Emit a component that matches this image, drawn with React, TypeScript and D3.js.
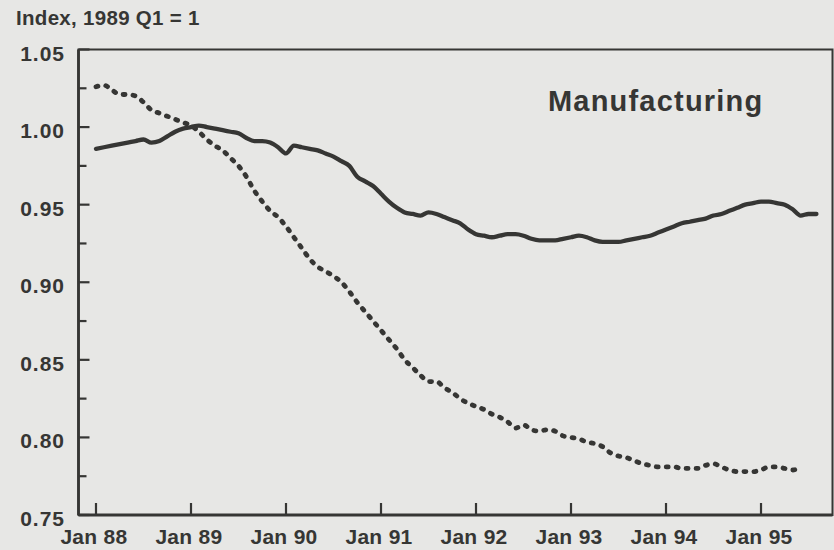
import React from "react";
import * as d3 from "d3";

// Monthly observations, index 0 = Jan 1988
const solidSeries: number[] = [
  0.986, 0.987, 0.988, 0.989, 0.990, 0.991, 0.992, 0.990, 0.991, 0.994, 0.997, 0.999,
  1.000, 1.001, 1.000, 0.999, 0.998, 0.997, 0.996, 0.993, 0.991, 0.991, 0.990, 0.987,
  0.983, 0.988, 0.987, 0.986, 0.985, 0.983, 0.981, 0.978, 0.975, 0.968, 0.965, 0.962,
  0.957, 0.952, 0.948, 0.945, 0.944, 0.943, 0.945, 0.944, 0.942, 0.940, 0.938, 0.934,
  0.931, 0.930, 0.929, 0.930, 0.931, 0.931, 0.930, 0.928, 0.927, 0.927, 0.927, 0.928,
  0.929, 0.930, 0.929, 0.927, 0.926, 0.926, 0.926, 0.927, 0.928, 0.929, 0.930, 0.932,
  0.934, 0.936, 0.938, 0.939, 0.940, 0.941, 0.943, 0.944, 0.946, 0.948, 0.950, 0.951,
  0.952, 0.952, 0.951, 0.950, 0.947, 0.943, 0.944, 0.944,
];

const dottedSeries: number[] = [
  1.026, 1.027, 1.024, 1.021, 1.021, 1.020, 1.016, 1.011, 1.009, 1.007, 1.005, 1.003,
  1.001, 0.997, 0.992, 0.988, 0.985, 0.980, 0.975, 0.968, 0.959, 0.952, 0.946, 0.942,
  0.936, 0.929, 0.922, 0.915, 0.910, 0.907, 0.904, 0.900, 0.894, 0.887, 0.881, 0.875,
  0.869, 0.863, 0.857, 0.850, 0.845, 0.840, 0.836, 0.836, 0.832, 0.829, 0.825, 0.822,
  0.820, 0.818, 0.815, 0.813, 0.810, 0.806, 0.808, 0.805, 0.804, 0.805, 0.804, 0.801,
  0.800, 0.799, 0.797, 0.796, 0.794, 0.790, 0.788, 0.787, 0.785, 0.783, 0.782, 0.781,
  0.781, 0.781, 0.780, 0.780, 0.780, 0.782, 0.783, 0.781, 0.779, 0.778, 0.778, 0.778,
  0.779, 0.781, 0.781, 0.780, 0.779, 0.781,
];

const xTickLabels: string[] = ["Jan 88", "Jan 89", "Jan 90", "Jan 91", "Jan 92", "Jan 93", "Jan 94", "Jan 95"];
const yMajorTicks: number[] = [0.75, 0.8, 0.85, 0.9, 0.95, 1.0, 1.05];
const yMinorTicks: number[] = [0.775, 0.825, 0.875, 0.925, 0.975, 1.025];

const titleText = "Index, 1989 Q1 = 1";
const panelLabel = "Manufacturing";

const W = 834;
const H = 550;
const INK = "#363634";
const BG = "#e7e7e5";
const FONT = "'Liberation Sans', Arial, Helvetica, sans-serif";

export default function App() {
  const left = 78.5;
  const right = 832.5;
  const top = 49.5;
  const bottom = 515;

  const x = d3.scaleLinear().domain([-2.21, 93.03]).range([left, right]);
  const y = d3.scaleLinear().domain([0.75, 1.05]).range([bottom, top]);

  const line = d3
    .line<number>()
    .x((_, i) => x(i))
    .y((d) => y(d))
    .curve(d3.curveMonotoneX);

  return (
    <svg
      width={W}
      height={H}
      style={{ position: "absolute", left: 0, top: 0, background: BG }}
      fontFamily={FONT}
    >
      <rect x={0} y={0} width={W} height={H} fill={BG} />
      <text x={16} y={24.5} fontSize={20.5} fontWeight="bold" fill={INK} letterSpacing={0.3}>
        {titleText}
      </text>

      {/* frame */}
      <rect x={left} y={top} width={right - left} height={bottom - top} fill="none" stroke={INK} strokeWidth={2} />
      <line x1={left} x2={left} y1={top} y2={bottom} stroke={INK} strokeWidth={2.8} />
      <line x1={left} x2={right} y1={bottom} y2={bottom} stroke={INK} strokeWidth={2.8} />

      {/* y ticks */}
      {yMajorTicks.map((t) => (
        <g key={"ym" + t}>
          <line x1={left} x2={left + 11} y1={y(t)} y2={y(t)} stroke={INK} strokeWidth={2.2} />
          <text
            x={65}
            y={y(t) + 11}
            textAnchor="end"
            fontSize={21}
            fontWeight="bold"
            fill={INK}
            letterSpacing={1}
          >
            {t.toFixed(2)}
          </text>
        </g>
      ))}
      {yMinorTicks.map((t) => (
        <line key={"yn" + t} x1={left} x2={left + 8} y1={y(t)} y2={y(t)} stroke={INK} strokeWidth={2.2} />
      ))}

      {/* x ticks */}
      {xTickLabels.map((lab, i) => (
        <g key={lab}>
          <line x1={x(i * 12)} x2={x(i * 12)} y1={bottom} y2={bottom - 12} stroke={INK} strokeWidth={2.2} />
          <text
            x={x(i * 12) - 2}
            y={543.5}
            textAnchor="middle"
            fontSize={21}
            fontWeight="bold"
            fill={INK}
            letterSpacing={0.3}
          >
            {lab}
          </text>
        </g>
      ))}

      {/* series */}
      <path
        d={line(dottedSeries) || ""}
        fill="none"
        stroke={INK}
        strokeWidth={4.8}
        strokeDasharray="2 8"
        strokeLinecap="round"
      />
      <path
        d={line(solidSeries) || ""}
        fill="none"
        stroke={INK}
        strokeWidth={4.3}
        strokeLinejoin="round"
        strokeLinecap="round"
      />

      <text x={548} y={111} fontSize={29} fontWeight="bold" fill={INK} letterSpacing={1.2}>
        {panelLabel}
      </text>
    </svg>
  );
}
